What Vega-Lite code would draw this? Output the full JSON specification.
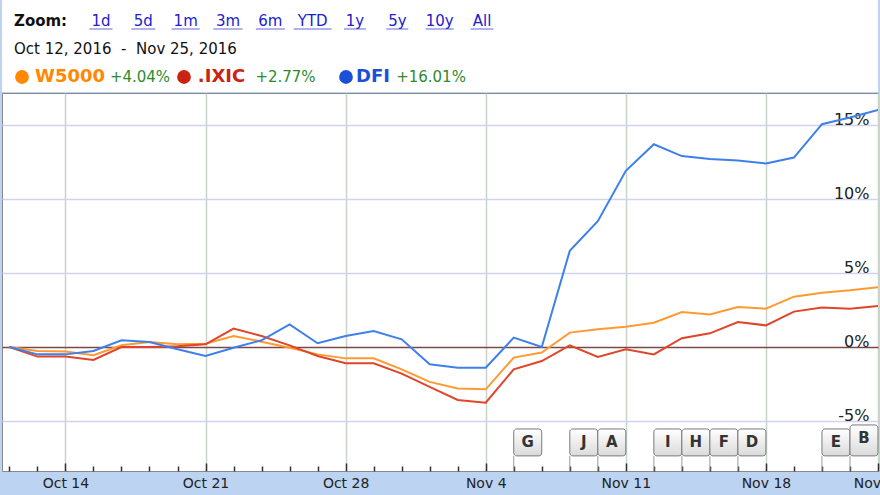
{
  "$schema": "https://vega.github.io/schema/vega-lite/v6.json",
  "padding": {"left": 1, "top": 0, "right": 0, "bottom": 0},
  "background": "#bcd4f2",
  "spacing": 0,
  "config": {"view": {"stroke": null}, "font": "DejaVu Sans"},
  "resolve": {"scale": {"color": "independent", "x": "independent", "y": "independent"}},
  "datasets": {
    "prices": [
      {"day": "Oct 12", "W5000": 0, "IXIC": 0, "DFI": 0},
      {"day": "Oct 13", "W5000": -0.27, "IXIC": -0.65, "DFI": -0.5},
      {"day": "Oct 14", "W5000": -0.3, "IXIC": -0.65, "DFI": -0.5},
      {"day": "Oct 17", "W5000": -0.56, "IXIC": -0.88, "DFI": -0.27},
      {"day": "Oct 18", "W5000": 0.11, "IXIC": 0.0, "DFI": 0.45},
      {"day": "Oct 19", "W5000": 0.34, "IXIC": 0.0, "DFI": 0.34},
      {"day": "Oct 20", "W5000": 0.18, "IXIC": 0.05, "DFI": -0.16},
      {"day": "Oct 21", "W5000": 0.22, "IXIC": 0.18, "DFI": -0.61},
      {"day": "Oct 24", "W5000": 0.74, "IXIC": 1.24, "DFI": -0.05},
      {"day": "Oct 25", "W5000": 0.36, "IXIC": 0.74, "DFI": 0.45},
      {"day": "Oct 26", "W5000": -0.05, "IXIC": 0.11, "DFI": 1.53},
      {"day": "Oct 27", "W5000": -0.5, "IXIC": -0.61, "DFI": 0.25},
      {"day": "Oct 28", "W5000": -0.77, "IXIC": -1.1, "DFI": 0.74},
      {"day": "Oct 31", "W5000": -0.77, "IXIC": -1.1, "DFI": 1.08},
      {"day": "Nov 1", "W5000": -1.51, "IXIC": -1.8, "DFI": 0.52},
      {"day": "Nov 2", "W5000": -2.36, "IXIC": -2.7, "DFI": -1.17},
      {"day": "Nov 3", "W5000": -2.8, "IXIC": -3.58, "DFI": -1.4},
      {"day": "Nov 4", "W5000": -2.86, "IXIC": -3.76, "DFI": -1.4},
      {"day": "Nov 7", "W5000": -0.72, "IXIC": -1.51, "DFI": 0.63},
      {"day": "Nov 8", "W5000": -0.38, "IXIC": -0.95, "DFI": 0.0},
      {"day": "Nov 9", "W5000": 0.97, "IXIC": 0.11, "DFI": 6.5},
      {"day": "Nov 10", "W5000": 1.19, "IXIC": -0.68, "DFI": 8.5},
      {"day": "Nov 11", "W5000": 1.37, "IXIC": -0.16, "DFI": 11.9},
      {"day": "Nov 14", "W5000": 1.64, "IXIC": -0.5, "DFI": 13.7},
      {"day": "Nov 15", "W5000": 2.36, "IXIC": 0.59, "DFI": 12.9},
      {"day": "Nov 16", "W5000": 2.2, "IXIC": 0.92, "DFI": 12.7},
      {"day": "Nov 17", "W5000": 2.7, "IXIC": 1.69, "DFI": 12.6},
      {"day": "Nov 18", "W5000": 2.59, "IXIC": 1.46, "DFI": 12.4},
      {"day": "Nov 21", "W5000": 3.4, "IXIC": 2.39, "DFI": 12.8},
      {"day": "Nov 22", "W5000": 3.67, "IXIC": 2.66, "DFI": 15.05},
      {"day": "Nov 23", "W5000": 3.83, "IXIC": 2.59, "DFI": 15.5},
      {"day": "Nov 25", "W5000": 4.04, "IXIC": 2.77, "DFI": 16.01}
    ],
    "flags": [
      {"day": "Nov 7", "flag": "G"},
      {"day": "Nov 9", "flag": "J"},
      {"day": "Nov 10", "flag": "A"},
      {"day": "Nov 14", "flag": "I"},
      {"day": "Nov 15", "flag": "H"},
      {"day": "Nov 16", "flag": "F"},
      {"day": "Nov 17", "flag": "D"},
      {"day": "Nov 22", "flag": "E"},
      {"day": "Nov 23", "flag": "B"}
    ],
    "links": [
      {"item": "1d", "line": "zoom"},
      {"item": "5d", "line": "zoom"},
      {"item": "1m", "line": "zoom"},
      {"item": "3m", "line": "zoom"},
      {"item": "6m", "line": "zoom"},
      {"item": "YTD", "line": "zoom"},
      {"item": "1y", "line": "zoom"},
      {"item": "5y", "line": "zoom"},
      {"item": "10y", "line": "zoom"},
      {"item": "All", "line": "zoom"}
    ],
    "legendItems": [
      {"series": "W5000", "name": "W5000", "pct": "+4.04%", "line": "legend"},
      {"series": "IXIC", "name": ".IXIC", "pct": "+2.77%", "line": "legend"},
      {"series": "DFI", "name": "DFI", "pct": "+16.01%", "line": "legend"}
    ]
  },
  "vconcat": [
    {
      "width": 876,
      "height": 92,
      "view": {"fill": "white", "stroke": null},
      "resolve": {"scale": {"x": "independent"}},
      "layer": [
        {
          "data": {"values": [{"item": "Zoom:", "line": "zoom"}]},
          "mark": {"type": "text", "align": "left", "baseline": "middle", "fontWeight": "bold", "fontSize": 15, "color": "#111111"},
          "encoding": {
            "x": {"field": "item", "type": "nominal", "scale": {"type": "point", "range": [12, 12], "padding": 0}, "axis": null},
            "y": {"field": "line", "type": "nominal", "scale": {"type": "point", "domain": ["zoom", "range", "legend"], "range": [21, 77], "padding": 0}, "axis": null},
            "text": {"field": "item"}
          }
        },
        {
          "data": {"name": "links"},
          "layer": [
            {
              "mark": {"type": "text", "align": "center", "baseline": "middle", "fontSize": 15, "color": "#2222cc"},
              "encoding": {
                "x": {"field": "item", "type": "nominal", "scale": {"type": "point", "domain": ["1d", "5d", "1m", "3m", "6m", "YTD", "1y", "5y", "10y", "All"], "range": [99, 480], "padding": 0}, "axis": null},
                "y": {"field": "line", "type": "nominal", "axis": null},
                "text": {"field": "item"}
              }
            },
            {
              "mark": {"type": "tick", "orient": "horizontal", "thickness": 1, "yOffset": 8, "color": "#2222cc"},
              "encoding": {
                "x": {"field": "item", "type": "nominal", "axis": null},
                "y": {"field": "line", "type": "nominal", "axis": null},
                "size": {"field": "item", "type": "nominal", "scale": {"type": "ordinal", "domain": ["1d", "5d", "1m", "3m", "6m", "YTD", "1y", "5y", "10y", "All"], "range": [23, 24, 28, 29, 29, 38, 22, 22, 28, 23]}, "legend": null}
              }
            }
          ]
        },
        {
          "data": {"values": [{"item": "Oct 12, 2016 \u00a0-\u00a0 Nov 25, 2016", "line": "range"}]},
          "mark": {"type": "text", "align": "left", "baseline": "middle", "fontSize": 15, "color": "#111111"},
          "encoding": {
            "x": {"field": "item", "type": "nominal", "scale": {"type": "point", "range": [12, 12], "padding": 0}, "axis": null},
            "y": {"field": "line", "type": "nominal", "axis": null},
            "text": {"field": "item"}
          }
        },
        {
          "data": {"name": "legendItems"},
          "mark": {"type": "point", "filled": true, "size": 190, "opacity": 1},
          "encoding": {
            "x": {"field": "series", "type": "nominal", "scale": {"type": "point", "domain": ["W5000", "IXIC", "DFI"], "range": [20, 344], "padding": 0}, "axis": null},
            "y": {"field": "line", "type": "nominal", "axis": null},
            "color": {"field": "series", "type": "nominal", "scale": {"domain": ["W5000", "IXIC", "DFI"], "range": ["#ff8800", "#cc2211", "#1a50d8"]}, "legend": null}
          }
        },
        {
          "data": {"name": "legendItems"},
          "mark": {"type": "text", "align": "center", "baseline": "middle", "fontSize": 18, "fontWeight": "bold"},
          "encoding": {
            "x": {"field": "series", "type": "nominal", "scale": {"type": "point", "domain": ["W5000", "IXIC", "DFI"], "range": [68, 371], "padding": 0}, "axis": null},
            "y": {"field": "line", "type": "nominal", "axis": null},
            "color": {"field": "series", "type": "nominal", "legend": null},
            "text": {"field": "name"}
          }
        },
        {
          "data": {"name": "legendItems"},
          "mark": {"type": "text", "align": "center", "baseline": "middle", "fontSize": 15, "color": "#2e8b2e"},
          "encoding": {
            "x": {"field": "series", "type": "nominal", "scale": {"type": "point", "domain": ["W5000", "IXIC", "DFI"], "range": [138, 429], "padding": 0}, "axis": null},
            "y": {"field": "line", "type": "nominal", "axis": null},
            "text": {"field": "pct"}
          }
        }
      ]
    },
    {
      "width": 876,
      "height": 378,
      "view": {"fill": "white", "stroke": "#8a8a8a", "strokeWidth": 1},
      "layer": [
        {
          "data": {"name": "prices"},
          "transform": [{"fold": ["W5000", "IXIC", "DFI"], "as": ["series", "pct"]}],
          "mark": {"type": "line", "strokeWidth": 2, "clip": true},
          "encoding": {
            "x": {
              "field": "day", "type": "ordinal",
              "scale": {"type": "point", "padding": 0.132, "align": 1,
                "domain": ["Oct 12", "Oct 13", "Oct 14", "Oct 17", "Oct 18", "Oct 19", "Oct 20", "Oct 21", "Oct 24", "Oct 25", "Oct 26", "Oct 27", "Oct 28", "Oct 31", "Nov 1", "Nov 2", "Nov 3", "Nov 4", "Nov 7", "Nov 8", "Nov 9", "Nov 10", "Nov 11", "Nov 14", "Nov 15", "Nov 16", "Nov 17", "Nov 18", "Nov 21", "Nov 22", "Nov 23", "Nov 25"]},
              "axis": {
                "title": null, "orient": "bottom", "domain": false, "labelAngle": 0,
                "labelExpr": "indexof(['Oct 14','Oct 21','Oct 28','Nov 4','Nov 11','Nov 18','Nov 25'], datum.value) >= 0 ? datum.value : ''",
                "labelFontSize": 14, "labelColor": "#222222", "labelFont": "DejaVu Sans", "labelBaseline": "middle", "labelPadding": 20, "labelOverlap": false,
                "tickColor": "#333333", "tickWidth": 1.5,
                "tickSize": {"condition": {"test": "indexof(['Oct 14','Oct 21','Oct 28','Nov 4','Nov 11','Nov 18','Nov 25'], datum.value) >= 0", "value": -8}, "value": -5},
                "grid": true, "gridColor": "#c9d3c9", "gridWidth": 1.5,
                "gridOpacity": {"condition": {"test": "indexof(['Oct 14','Oct 21','Oct 28','Nov 4','Nov 11','Nov 18','Nov 25'], datum.value) >= 0", "value": 1}, "value": 0},
                "minExtent": 25, "maxExtent": 25
              }
            },
            "y": {
              "field": "pct", "type": "quantitative",
              "scale": {"domain": [-8.38, 17.16], "nice": false, "zero": false},
              "axis": {
                "title": null, "orient": "right", "values": [-5, 0, 5, 10, 15], "domain": false, "ticks": false,
                "labelExpr": "datum.value + '%'", "labelAlign": "right", "labelPadding": -9, "labelBaseline": "alphabetic",
                "labelFontSize": 16, "labelColor": "#222222", "labelFont": "DejaVu Sans",
                "grid": true, "gridWidth": 1.5,
                "gridColor": {"condition": {"test": "datum.value === 0", "value": "#7b4848"}, "value": "#d2d2ee"},
                "minExtent": 0, "maxExtent": 0
              }
            },
            "color": {"field": "series", "type": "nominal", "scale": {"domain": ["W5000", "IXIC", "DFI"], "range": ["#ff9a30", "#e0452a", "#3d80ea"]}, "legend": null}
          }
        },
        {
          "data": {"name": "flags"},
          "mark": {"type": "rule", "color": "#9a9a9a", "strokeWidth": 1},
          "encoding": {
            "x": {"field": "day", "type": "ordinal"},
            "y": {"datum": -7.36, "type": "quantitative"},
            "y2": {"datum": -8.38}
          }
        },
        {
          "data": {"name": "flags"},
          "mark": {"type": "rect", "width": 28, "xOffset": 14, "cornerRadius": 3, "stroke": "#7a7a7a", "strokeWidth": 1,
            "yOffset": {"expr": "datum.flag === 'B' ? -4 : 0"},
            "fill": {"gradient": "linear", "x1": 0, "y1": 0, "x2": 0, "y2": 1, "stops": [{"offset": 0, "color": "#ffffff"}, {"offset": 1, "color": "#dadada"}]}},
          "encoding": {
            "x": {"field": "day", "type": "ordinal"},
            "y": {"datum": -5.54, "type": "quantitative"},
            "y2": {"datum": -7.36}
          }
        },
        {
          "data": {"name": "flags"},
          "mark": {"type": "text", "xOffset": 14, "fontWeight": "bold", "fontSize": 15, "color": "#333333", "baseline": "middle", "align": "center",
            "yOffset": {"expr": "datum.flag === 'B' ? -4 : 0"}},
          "encoding": {
            "x": {"field": "day", "type": "ordinal"},
            "y": {"datum": -6.45, "type": "quantitative"},
            "text": {"field": "flag"}
          }
        }
      ]
    }
  ]
}
